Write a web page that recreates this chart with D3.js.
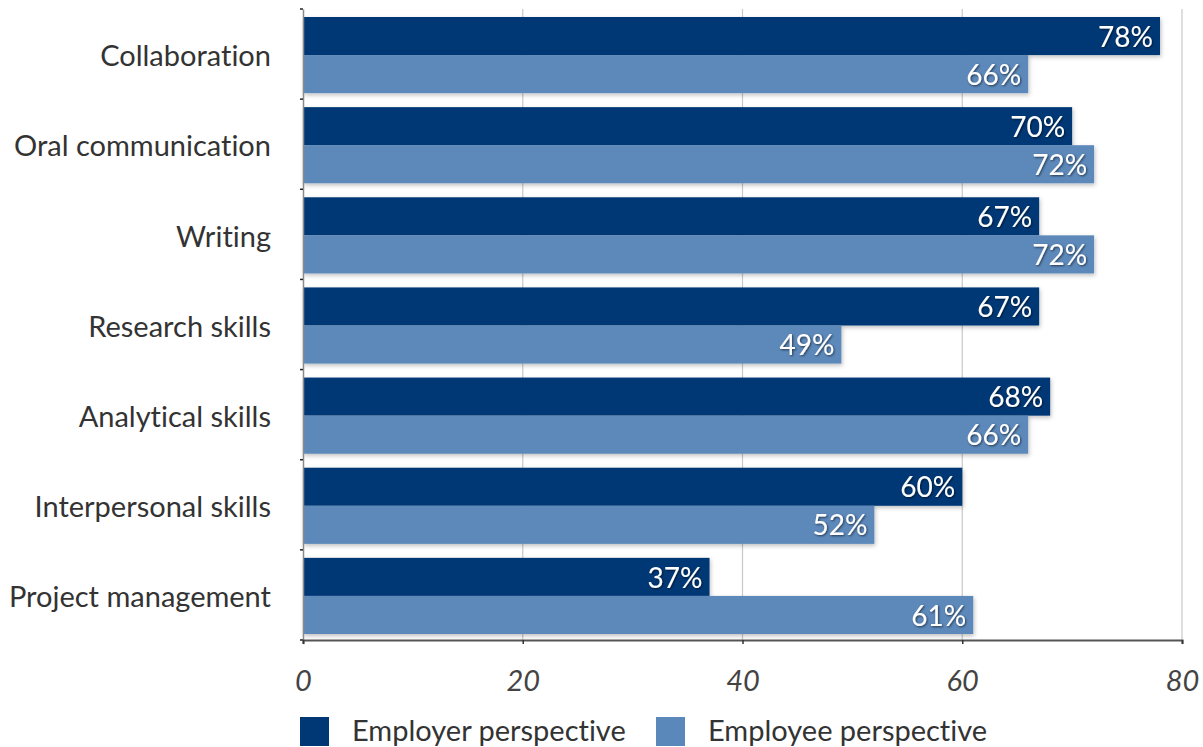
<!DOCTYPE html>
<html>
<head>
<meta charset="utf-8">
<script src="https://cdn.jsdelivr.net/npm/d3@7"></script>
<style>
  html, body { margin: 0; padding: 0; background: #fff; }
  svg { display: block; font-family: Lato, "Open Sans", sans-serif; font-variant-ligatures: none; }
</style>
</head>
<body>
<svg id="chart" width="1203" height="747"></svg>
<script>
// Skills rated as important, by perspective (percent)
const categories = ["Collaboration", "Oral communication", "Writing", "Research skills",
                    "Analytical skills", "Interpersonal skills", "Project management"];
const employer = [78, 70, 67, 67, 68, 60, 37];
const employee = [66, 72, 72, 49, 66, 52, 61];
const seriesNames = ["Employer perspective", "Employee perspective"];
const seriesColors = ["#003876", "#5b88ba"];
const xTicks = [0, 20, 40, 60, 80];

const svg = d3.select("#chart");
const m = { left: 303, right: 1182, top: 9, bottom: 640 };

const x = d3.scaleLinear().domain([0, 80]).range([m.left, m.right]);
const y = d3.scaleBand().domain(categories).range([m.top, m.bottom]);
const inner = d3.scaleBand().domain([0, 1]).range([8, y.bandwidth() - 6]);

const defs = svg.append("defs");
const barShadow = defs.append("filter").attr("id", "barShadow")
  .attr("x", "-5%").attr("y", "-20%").attr("width", "110%").attr("height", "150%");
barShadow.append("feDropShadow").attr("dx", 1).attr("dy", 2).attr("stdDeviation", 2)
  .attr("flood-color", "#000").attr("flood-opacity", 0.25);
const textShadow = defs.append("filter").attr("id", "textShadow")
  .attr("x", "-10%").attr("y", "-10%").attr("width", "130%").attr("height", "140%");
textShadow.append("feDropShadow").attr("dx", 1).attr("dy", 1).attr("stdDeviation", 0.8)
  .attr("flood-color", "#000").attr("flood-opacity", 0.6);

// vertical gridlines
svg.append("g").selectAll("line").data(xTicks.slice(1)).join("line")
  .attr("x1", d => x(d)).attr("x2", d => x(d))
  .attr("y1", m.top).attr("y2", m.bottom)
  .attr("stroke", "#c8c8c8").attr("stroke-width", 1.2);

// bars
const rows = categories.map((c, i) => ({ c, vals: [employer[i], employee[i]] }));
const groups = svg.append("g").selectAll("g").data(rows).join("g")
  .attr("transform", d => `translate(0,${y(d.c)})`);

groups.selectAll("rect").data(d => d.vals.map((v, k) => ({ v, k }))).join("rect")
  .attr("x", x(0))
  .attr("y", d => inner(d.k))
  .attr("width", d => x(d.v) - x(0))
  .attr("height", inner.bandwidth())
  .attr("fill", d => seriesColors[d.k])
  .attr("filter", "url(#barShadow)");

groups.selectAll("text.val").data(d => d.vals.map((v, k) => ({ v, k }))).join("text")
  .attr("class", "val")
  .attr("x", d => x(d.v) - 7)
  .attr("y", d => inner(d.k) + inner.bandwidth() / 2)
  .attr("dy", "0.38em")
  .attr("text-anchor", "end")
  .attr("fill", "#fff")
  .attr("font-size", 28)
  .attr("filter", "url(#textShadow)")
  .text(d => d.v + "%");

// left axis with category labels
const yAxis = svg.append("g").attr("transform", `translate(${m.left},0)`)
  .call(d3.axisLeft(y).tickSize(0).tickPadding(32));
yAxis.select(".domain").attr("stroke", "#8a8a8a").attr("stroke-width", 1.5);
yAxis.selectAll("text").attr("font-size", 29).attr("fill", "#333")
  .attr("dy", "0.42em")
  .attr("font-family", "Lato, sans-serif");
// boundary tick marks between categories
svg.append("g").selectAll("line")
  .data(categories.map(c => y(c)).concat([m.bottom]))
  .join("line")
  .attr("x1", m.left - 3).attr("x2", m.left)
  .attr("y1", d => d).attr("y2", d => d)
  .attr("stroke", "#222").attr("stroke-width", 1.5);

// bottom axis
const xAxis = svg.append("g").attr("transform", `translate(0,${m.bottom})`)
  .call(d3.axisBottom(x).tickValues(xTicks).tickSize(4).tickPadding(26));
xAxis.select(".domain").attr("stroke", "#555").attr("stroke-width", 2);
xAxis.selectAll(".tick line").attr("stroke", "#333").attr("stroke-width", 1.5);
xAxis.selectAll("text").attr("font-size", 29).attr("font-style", "italic")
  .attr("fill", "#444").attr("font-family", "Lato, sans-serif");

// legend
const legendX = [300, 656];
const legend = svg.append("g").selectAll("g").data(seriesNames).join("g")
  .attr("transform", (d, i) => `translate(${legendX[i]},717)`);
legend.append("rect").attr("width", 29).attr("height", 29)
  .attr("fill", (d, i) => seriesColors[i]);
legend.append("text").attr("x", 52).attr("y", 14).attr("dy", "0.36em")
  .attr("font-size", 29).attr("fill", "#333").text(d => d);
</script>
</body>
</html>
